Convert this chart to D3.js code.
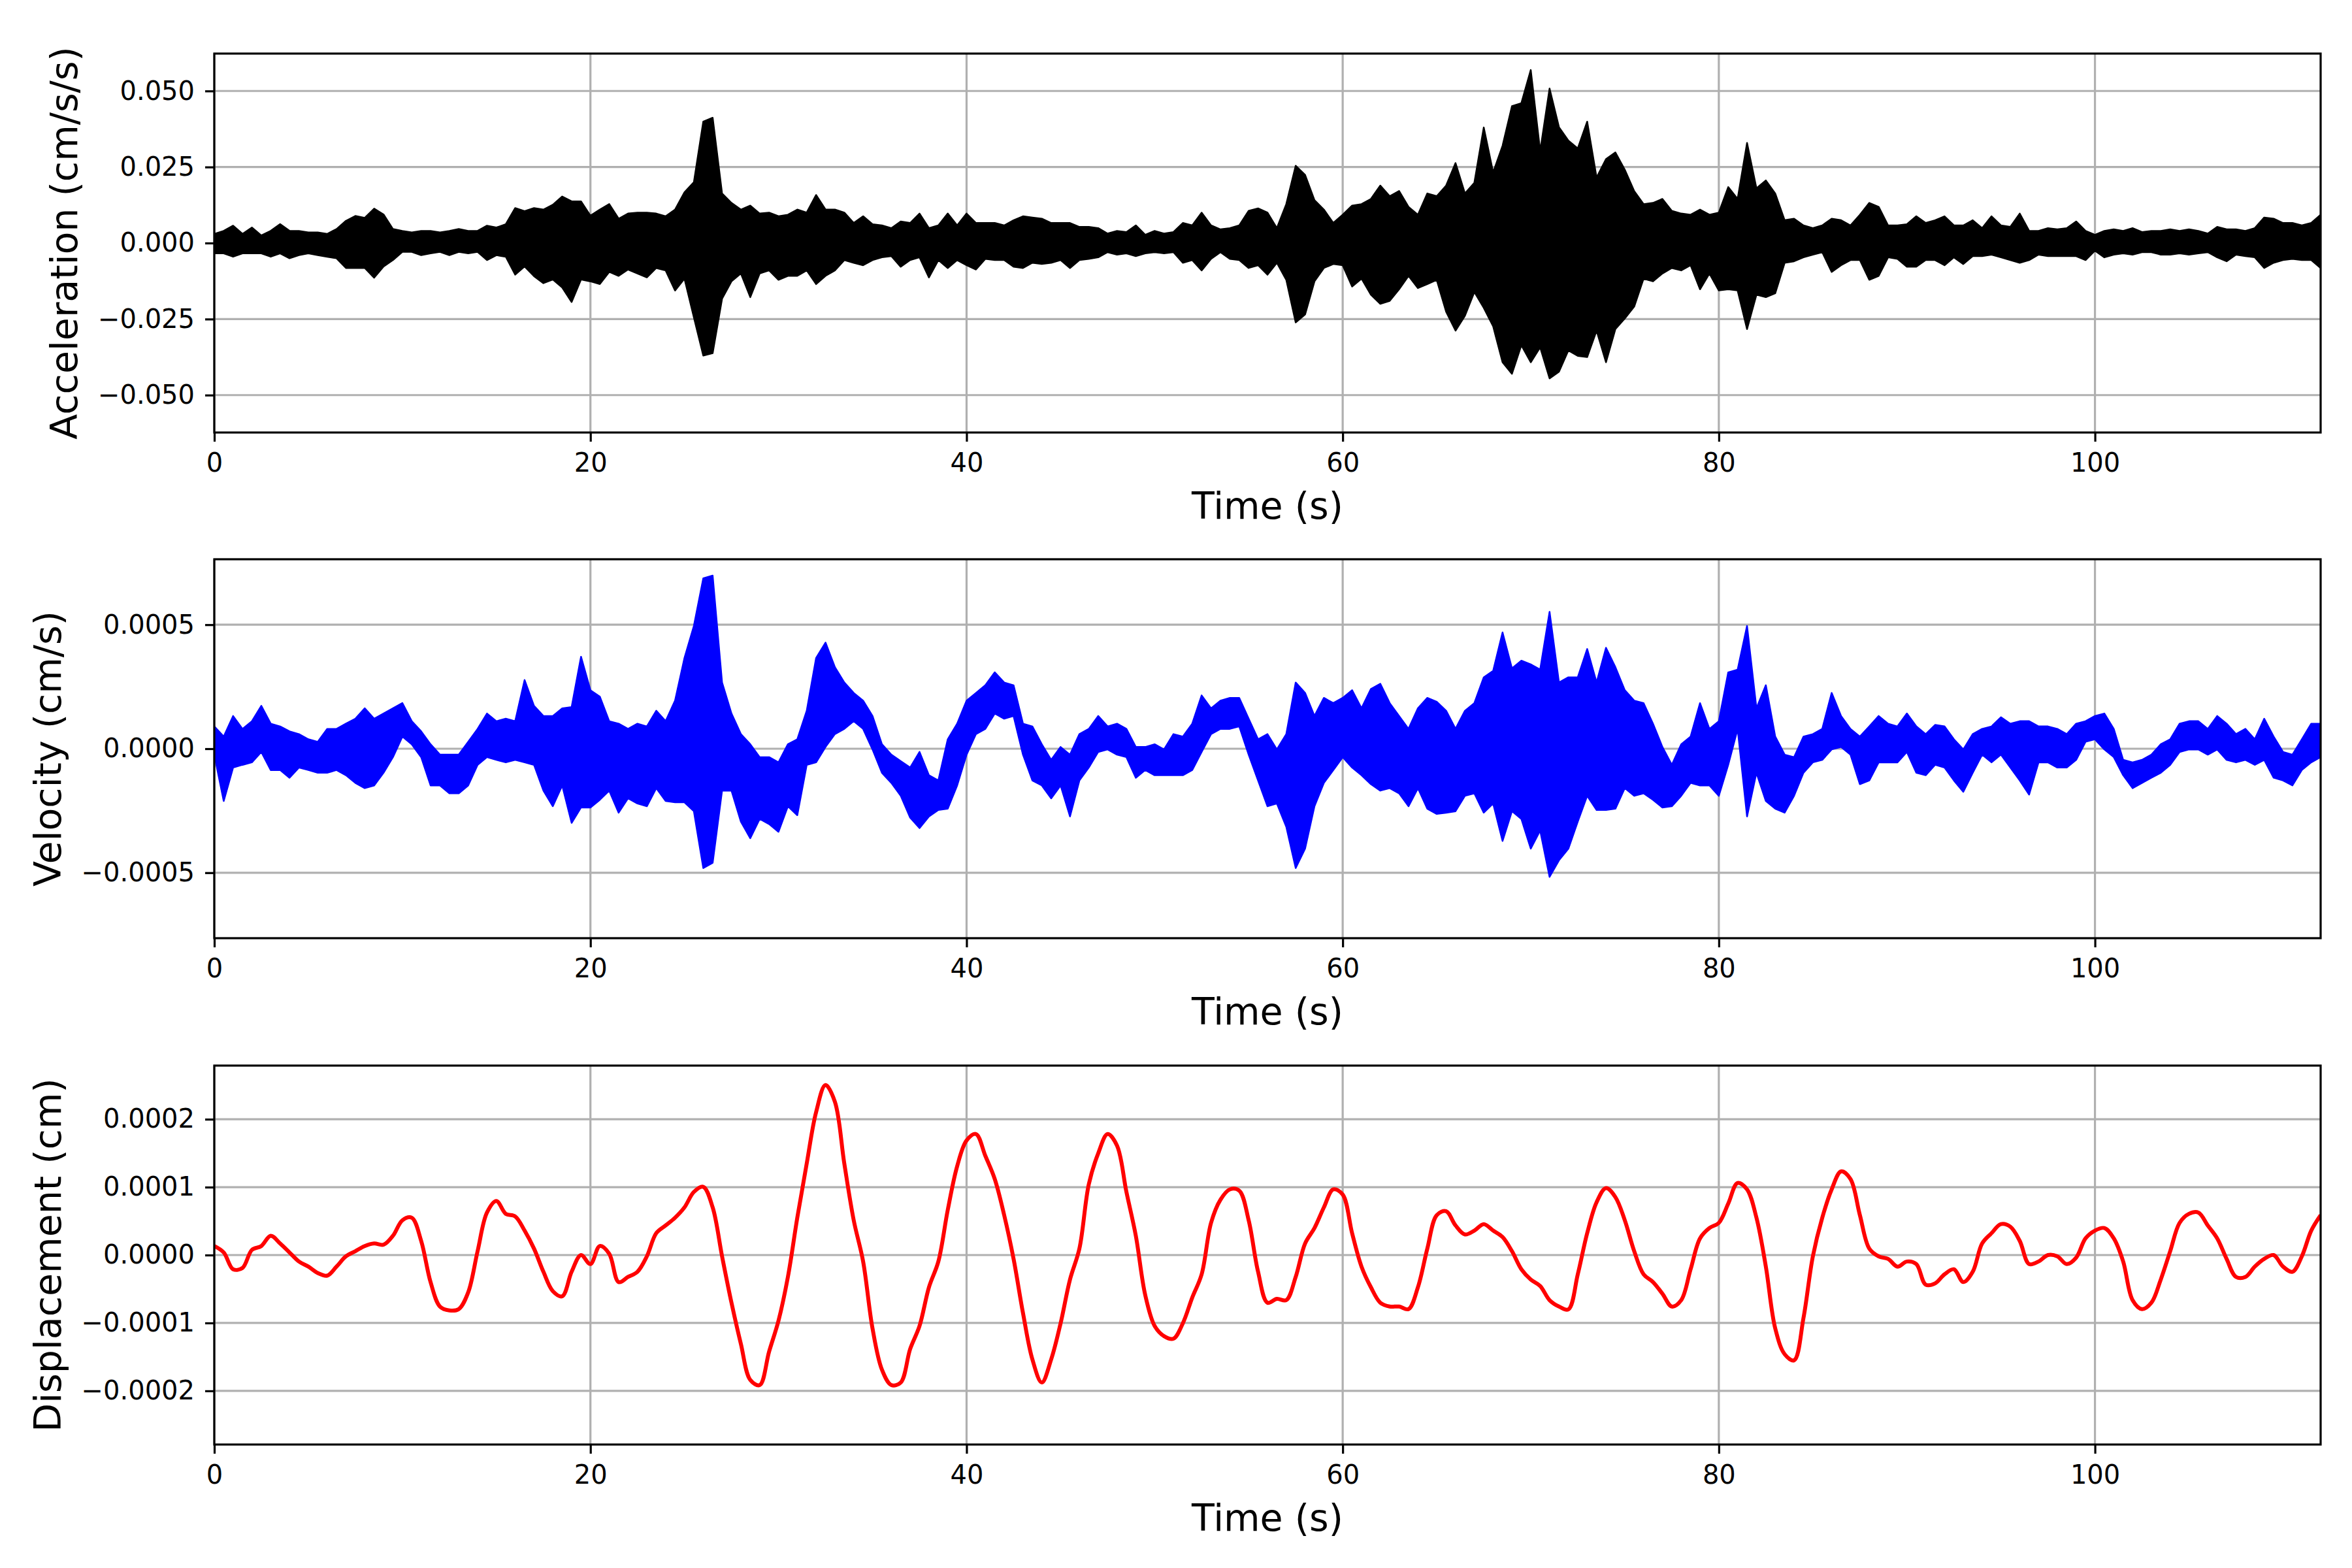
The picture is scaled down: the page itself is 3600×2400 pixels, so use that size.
<!DOCTYPE html>
<html>
<head>
<meta charset="utf-8">
<script src="https://cdn.jsdelivr.net/npm/d3@7"></script>
<style>
  body { margin: 0; background: #fff; }
</style>
</head>
<body>
<div id="chart"></div>
<script>
// Record sampled every 0.5 s, 0 .. 112 s (225 samples per series).
// Acceleration and velocity are too dense to follow trace by trace, so each
// sample holds the upper / lower extent of the trace.
const sampleStep = 0.5;

// acceleration extent, units of 1e-3 cm/s/s
const accUpper = [
  3, 4, 5.7, 3, 5.1, 2.5, 4, 6.2, 4, 4,                 // 0
  3.5, 3.5, 3, 4.6, 7.3, 8.9, 8.3, 11.3, 9.4, 4.6,     // 5
  4, 3.5, 4, 4, 3.5, 4, 4.6, 4, 4, 5.7,                 // 10
  5.1, 6.2, 11.5, 10.5, 11.5, 11, 12.6, 15.3, 13.7, 13.7, // 15
  9, 11, 12.8, 8, 9.7, 10, 10, 9.7, 8.8, 11,            // 20
  16.7, 20, 39.9, 41.2, 16.3, 13.2, 11, 12.3, 9.7, 10,  // 25
  8.8, 9.3, 11, 10, 15.8, 11, 11, 10, 6.6, 8.8,         // 30
  6.2, 5.8, 4.9, 7.1, 6.6, 9.7, 4.9, 5.8, 9.7, 5.8,     // 35
  9.7, 6.6, 6.6, 6.6, 5.8, 7.5, 8.8, 8.4, 8, 6.6,       // 40
  6.6, 6.6, 5.3, 5.3, 4.9, 3.1, 4, 3.6, 5.8, 2.7,       // 45
  4, 3.1, 3.6, 6.6, 5.8, 10, 5.8, 4.5, 4.9, 5.8,        // 50
  10.6, 11.4, 10, 4.9, 12.8, 25.4, 22.4, 14.1, 11, 6.6, // 55
  9.3, 12.3, 12.8, 14.5, 18.9, 15.4, 17.1, 11.9, 9.3, 16.3, // 60
  15.4, 18.9, 26.3, 16.3, 19.8, 38, 23.2, 32, 45, 46,   // 65
  56.9, 30.2, 50.8, 38.1, 33.7, 31.1, 39.9, 21.5, 27.6, 29.8, // 70
  24.1, 17.1, 12.8, 13.2, 14.5, 10.6, 9.7, 9.3, 11, 9.3, // 75
  10, 18.4, 14.5, 32.9, 18, 20.6, 16.3, 7.5, 8, 5.8,    // 80
  4.9, 5.8, 8, 7.5, 5.8, 9.3, 13.2, 11.9, 5.8, 5.8,     // 85
  6.2, 8.8, 6.6, 7.5, 8.8, 5.8, 5.8, 7.5, 4.9, 8.8,     // 90
  5.8, 5.3, 9.7, 4, 4, 4.9, 4.5, 4.9, 7.1, 4,           // 95
  2.7, 4, 4.5, 4, 4.9, 3.6, 4, 4, 4.5, 4,               // 100
  4.5, 4, 3.1, 5.3, 4.5, 4.5, 4, 4.9, 8.4, 8,           // 105
  6.6, 6.6, 5.8, 6.6, 9.3                               // 110
];
const accLower = [
  -3.4, -3.4, -4.5, -3.4, -3.4, -3.4, -4.5, -3.4, -5, -4,
  -3.4, -4, -4.5, -5, -8.2, -8.2, -8.2, -11.4, -7.7, -5.6,
  -2.9, -2.9, -4, -3.4, -2.9, -4, -2.9, -3.4, -2.9, -5.6,
  -4, -4.5, -10.4, -7.7, -10.9, -13.2, -12, -14.6, -19.4, -12,
  -12.6, -13.5, -9.5, -10.8, -8.7, -10, -11.3, -8.2, -9, -15.6,
  -11.7, -24.4, -37, -36.2, -18.3, -12.6, -10, -17.8, -10, -9,
  -12.1, -10.8, -10.8, -9, -13.5, -10.8, -9, -5.6, -6.5, -7.3,
  -5.6, -4.7, -4.3, -7.8, -5.6, -4.7, -11.3, -5.6, -8.2, -5.6,
  -7.3, -8.7, -5.2, -5.6, -5.6, -7.8, -8.2, -6.5, -6.9, -6.5,
  -5.6, -8.2, -5.6, -5.2, -4.7, -3, -3.8, -3.4, -4.3, -3.4,
  -3, -3.4, -3, -6.5, -5.6, -9, -5.2, -3, -5.2, -5.6,
  -8.2, -7.3, -10.4, -6.5, -12.1, -26.1, -23.5, -12.6, -8.2, -6.9,
  -7.3, -14.3, -11.7, -17, -20, -19, -15.2, -10.8, -14.8, -13.5,
  -12.1, -22.6, -28.8, -23.9, -16.1, -21.3, -27.4, -39.2, -43, -33.6,
  -39.2, -34.3, -44.5, -42.3, -35.3, -37.1, -37.5, -28.8, -39.2, -28.3,
  -24.8, -20.9, -11.7, -12.6, -10, -8.2, -9, -7.3, -15.2, -10,
  -15.6, -15.2, -15.6, -28.3, -17, -17.8, -16.5, -6.5, -6, -4.7,
  -3.8, -3, -9.5, -7.3, -5.6, -5.6, -12.1, -10.8, -4.7, -5.2,
  -7.8, -7.8, -5.6, -5.6, -7.3, -4.7, -6.9, -4.3, -4.3, -3.8,
  -4.7, -5.6, -6.5, -5.6, -3.8, -4.3, -4.3, -4.3, -4.3, -5.6,
  -2.5, -4.7, -3.8, -3.4, -3.8, -3, -3, -3.8, -3.8, -3.4,
  -3.8, -3.4, -3, -4.7, -6, -3.8, -4.3, -4.7, -8.2, -6.5,
  -5.6, -5.2, -5.6, -5.6, -8.2
];

// velocity extent, units of 1e-6 cm/s
const velUpper = [
  90, 49, 132, 80, 111, 173, 101, 90, 70, 59,
  38, 28, 80, 80, 101, 121, 163, 121, 142, 163,
  184, 111, 70, 18, -24, -24, -24, 28, 80, 142,
  111, 121, 111, 277, 173, 132, 132, 163, 168, 371,
  236, 210, 111, 101, 80, 101, 90, 153, 111, 194,
  366, 495, 687, 698, 267, 142, 59, 18, -34, -34,
  -55, 18, 38, 153, 366, 428, 329, 267, 225, 194,
  132, 18, -24, -50, -76, -13, -107, -128, 38, 101,
  194, 225, 256, 308, 267, 256, 101, 90, 18, -45,
  7, -24, 59, 80, 132, 90, 101, 80, 7, 7,
  18, -3, 59, 49, 101, 215, 163, 194, 205, 205,
  121, 38, 59, -3, 59, 267, 225, 132, 205, 184,
  205, 236, 163, 241, 262, 184, 132, 80, 163, 205,
  189, 153, 80, 153, 184, 288, 314, 469, 324, 355,
  340, 319, 552, 267, 288, 288, 402, 267, 407, 329,
  236, 194, 184, 101, 7, -65, 18, 49, 184, 80,
  111, 308, 319, 495, 163, 256, 49, -24, -34, 49,
  59, 80, 225, 132, 80, 49, 90, 132, 101, 90,
  142, 90, 59, 96, 90, 38, -3, 59, 80, 90,
  127, 101, 111, 111, 90, 90, 80, 59, 101, 111,
  132, 142, 80, -45, -55, -45, -24, 18, 38, 101,
  111, 111, 80, 132, 101, 59, 80, 38, 121, 49,
  -13, -24, 38, 101, 101
];
const velLower = [
  -24, -211, -76, -65, -55, -13, -86, -86, -117, -76,
  -86, -97, -97, -86, -107, -138, -159, -148, -97, -34,
  49, 18, -34, -148, -148, -180, -180, -148, -65, -34,
  -45, -55, -45, -55, -65, -169, -232, -148, -299, -237,
  -237, -206, -169, -258, -200, -221, -232, -159, -211, -216,
  -216, -252, -481, -460, -169, -169, -294, -361, -283, -304,
  -335, -232, -268, -65, -55, 7, 59, 80, 111, 80,
  -3, -97, -138, -190, -278, -320, -273, -247, -242, -148,
  -24, 59, 80, 142, 121, 132, -24, -128, -148, -200,
  -148, -273, -128, -76, -13, -3, -24, -34, -117, -86,
  -107, -107, -107, -107, -86, -13, 59, 80, 80, 90,
  -24, -128, -232, -221, -315, -481, -403, -232, -138, -86,
  -34, -76, -107, -143, -169, -159, -180, -232, -159, -242,
  -263, -258, -252, -190, -180, -258, -221, -372, -252, -283,
  -403, -330, -517, -450, -403, -294, -190, -247, -247, -242,
  -159, -190, -180, -206, -237, -232, -190, -138, -148, -148,
  -190, -65, 80, -273, -97, -211, -242, -258, -190, -97,
  -55, -45, -3, 7, -24, -143, -128, -55, -55, -55,
  -13, -97, -107, -65, -76, -128, -174, -97, -24, -55,
  -24, -76, -128, -185, -55, -55, -76, -76, -45, 28,
  38, -3, -34, -107, -159, -138, -117, -97, -65, -13,
  -3, -3, -24, -3, -45, -55, -45, -65, -45, -117,
  -128, -148, -86, -55, -34
];

// displacement, units of 1e-6 cm
const displacement = [
  13.3, 3.8, -20.9, -19, 7.6, 13.3, 28.4, 17, 3.8, -9.5,
  -17, -26.5, -30.3, -17, -1.9, 5.7, 13.3, 17, 15.2, 28.4,
  51.2, 55, 20.9, -39.8, -75.8, -81.5, -79.6, -55, 5.7, 62.6,
  79.6, 60.7, 56.9, 36, 9.5, -24.6, -53.1, -60.7, -24.6, 0,
  -13.3, 13.3, 1.9, -39.8, -32.2, -24.6, -1.9, 32.2, 43.6, 55,
  70.2, 92.9, 100.5, 70.2, -1.9, -70.2, -130.8, -183.9, -191.5, -142.2,
  -96.7, -32.2, 55, 134.6, 210.5, 250.3, 225.6, 134.6, 51.2, -9.5,
  -108.1, -168.7, -191.5, -187.7, -138.4, -104.3, -47.4, -9.5, 66.4, 130.8,
  168.7, 178.2, 146, 111.9, 58.8, -5.7, -85.3, -153.6, -187.7, -153.6,
  -100.5, -36, 9.5, 104.3, 149.8, 178.2, 161.2, 92.9, 28.4, -58.8,
  -104.3, -119.4, -123.2, -100.5, -62.6, -28.4, 47.4, 81.5, 96.7, 94.8,
  51.2, -24.6, -70.2, -64.5, -66.4, -32.2, 17, 39.8, 70.2, 96.7,
  89.1, 32.2, -17, -47.4, -70.2, -75.8, -75.8, -79.6, -47.4, 9.5,
  58.8, 64.5, 43.6, 30.3, 36, 45.5, 36, 26.5, 5.7, -20.9,
  -36, -45.5, -66.4, -75.8, -80, -28.4, 32.2, 77.7, 98.6, 85.3,
  51.2, 5.7, -28.4, -39.8, -56.9, -75.8, -66.4, -20.9, 24.6, 39.8,
  47.4, 75.8, 106.2, 96.7, 55, -17, -108.1, -146, -155, -92.9,
  -1.9, 55, 96.7, 123.2, 111.9, 58.8, 9.5, -1.9, -5.7, -17,
  -9.5, -13.3, -43.6, -41.7, -28.4, -20.9, -39.8, -24.6, 17, 32.2,
  45.5, 41.7, 20.9, -13.3, -9.5, 0, -1.9, -13.3, -3.8, 24.6,
  36, 39.8, 24.6, -9.5, -66.4, -79.6, -70.2, -36, 5.7, 47.4,
  60.7, 62.6, 43.6, 24.6, -5.7, -32.2, -32.2, -17, -5.7, 0,
  -17, -24.6, -1.9, 36, 58.8
];

const timeTicks = [0, 20, 40, 60, 80, 100];
const accTicks = [-0.050, -0.025, 0, 0.025, 0.050];
const velTicks = [-0.0005, 0, 0.0005];
const dispTicks = [-0.0002, -0.0001, 0, 0.0001, 0.0002];

// ---- series built from the arrays above
const accSeries = accUpper.map((u, i) => ({ t: i * sampleStep, hi: u * 1e-3, lo: accLower[i] * 1e-3 }));
const velSeries = velUpper.map((u, i) => ({ t: i * sampleStep, hi: u * 1e-6, lo: velLower[i] * 1e-6 }));
const dispSeries = displacement.map((v, i) => ({ t: i * sampleStep, v: v * 1e-6 }));

const panels = [
  { data: accSeries, band: true, color: "#000000", ylim: 0.0623, ticks: accTicks, fmt: ".3f", label: "Acceleration (cm/s/s)" },
  { data: velSeries, band: true, color: "#0000ff", ylim: 0.000764, ticks: velTicks, fmt: ".4f", label: "Velocity (cm/s)" },
  { data: dispSeries, band: false, color: "#ff0000", ylim: 0.000279, ticks: dispTicks, fmt: ".4f", label: "Displacement (cm)" }
];

// ---- layout
const W = 3600, H = 2400;
const plotLeft = 328, plotRight = 3552, plotH = 580;
const tops = [82, 856, 1631];
const font = "'DejaVu Sans', sans-serif";

const svg = d3.select("#chart")
  .append("svg")
  .attr("width", W)
  .attr("height", H)
  .style("font-family", font);

svg.append("rect").attr("width", W).attr("height", H).attr("fill", "#fff");

const x = d3.scaleLinear().domain([0, 112]).range([plotLeft, plotRight]);

panels.forEach((p, k) => {
  const top = tops[k];
  const y = d3.scaleLinear().domain([-p.ylim, p.ylim]).range([top + plotH, top]);
  const g = svg.append("g");

  g.append("clipPath")
    .attr("id", `clip-${k}`)
    .append("rect")
    .attr("x", plotLeft).attr("y", top)
    .attr("width", plotRight - plotLeft).attr("height", plotH);

  // grid
  g.append("g").selectAll("line").data(timeTicks).join("line")
    .attr("x1", d => x(d)).attr("x2", d => x(d))
    .attr("y1", top).attr("y2", top + plotH)
    .attr("stroke", "#b0b0b0").attr("stroke-width", 3.2);
  g.append("g").selectAll("line").data(p.ticks).join("line")
    .attr("x1", plotLeft).attr("x2", plotRight)
    .attr("y1", d => y(d)).attr("y2", d => y(d))
    .attr("stroke", "#b0b0b0").attr("stroke-width", 3.2);

  // trace: dense records as a filled min/max band, displacement as a line
  const traceG = g.append("g").attr("clip-path", `url(#clip-${k})`);
  if (p.band) {
    traceG.append("path")
      .datum(p.data)
      .attr("fill", p.color)
      .attr("stroke", p.color)
      .attr("stroke-width", 2.5)
      .attr("stroke-linejoin", "round")
      .attr("d", d3.area()
        .x(d => x(d.t))
        .y0(d => y(d.lo))
        .y1(d => y(d.hi)));
  } else {
    traceG.append("path")
      .datum(p.data)
      .attr("fill", "none")
      .attr("stroke", p.color)
      .attr("stroke-width", 6)
      .attr("stroke-linejoin", "round")
      .attr("d", d3.line()
        .curve(d3.curveCatmullRom.alpha(0.5))
        .x(d => x(d.t))
        .y(d => y(d.v)));
  }

  // axes
  const xAxis = g.append("g")
    .attr("transform", `translate(0,${top + plotH})`)
    .call(d3.axisBottom(x).tickValues(timeTicks).tickFormat(d3.format("d"))
      .tickSize(14).tickPadding(17.6).tickSizeOuter(0));
  const yAxis = g.append("g")
    .attr("transform", `translate(${plotLeft},0)`)
    .call(d3.axisLeft(y).tickValues(p.ticks).tickFormat(d3.format(p.fmt))
      .tickSize(14).tickPadding(16).tickSizeOuter(0));

  [xAxis, yAxis].forEach(a => {
    a.attr("font-family", font).attr("font-size", 40);
    a.select(".domain").remove();
    a.selectAll(".tick line").attr("stroke", "#000").attr("stroke-width", 3.2);
    a.selectAll(".tick text").attr("fill", "#000");
  });

  // frame
  g.append("rect")
    .attr("x", plotLeft).attr("y", top)
    .attr("width", plotRight - plotLeft).attr("height", plotH)
    .attr("fill", "none").attr("stroke", "#000").attr("stroke-width", 3.2);

  // labels
  g.append("text")
    .attr("x", (plotLeft + plotRight) / 2)
    .attr("y", top + plotH + 132)
    .attr("text-anchor", "middle")
    .attr("font-size", 57)
    .text("Time (s)");

  const tickLeft = plotLeft + yAxis.node().getBBox().x;
  g.append("text")
    .attr("transform", `translate(${tickLeft - 32},${top + plotH / 2}) rotate(-90)`)
    .attr("text-anchor", "middle")
    .attr("font-size", 57)
    .text(p.label);
});
</script>
</body>
</html>
